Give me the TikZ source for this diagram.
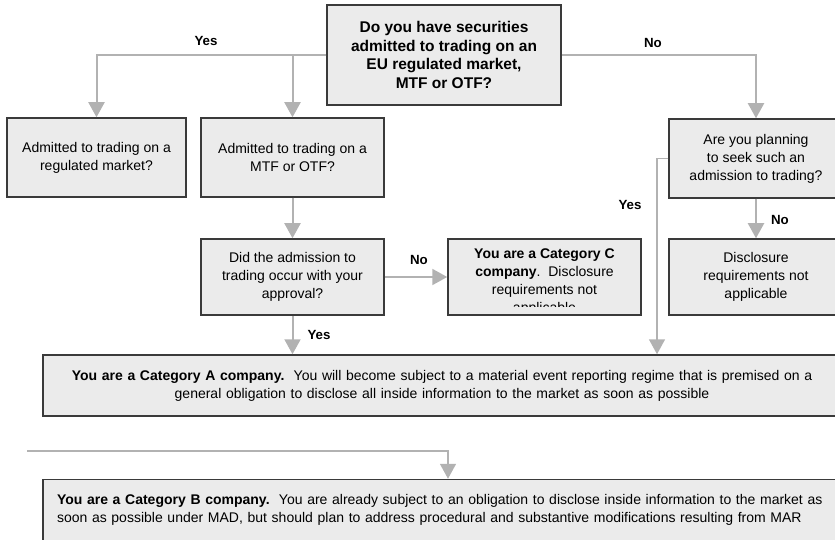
\documentclass[tikz,border=0pt]{standalone}
\usepackage{fontspec}
\setmainfont{Liberation Sans}
\usepackage{tikz}
\usetikzlibrary{arrows.meta}
\definecolor{boxfill}{HTML}{EBEBEB}
\definecolor{boxline}{HTML}{3A3A3A}
\definecolor{arrgray}{HTML}{B2B2B2}

\begin{document}
\begin{tikzpicture}[
    x=1pt, y=-1pt,
    every node/.style={font=\fontsize{14}{18}\selectfont},
    qbox/.style={draw=boxline,line width=1.5pt,fill=boxfill,align=center,inner sep=3pt},
    wbox/.style={qbox,minimum width=798pt,minimum height=61pt,text width=770pt,inner xsep=14pt},
    lbl/.style={font=\fontsize{13.3}{16}\selectfont\bfseries},
    arr/.style={draw=arrgray,line width=2pt,-{Triangle[width=16pt,length=15pt]}},
  ]
  \clip (0,0) rectangle (835,540);
  \useasboundingbox (0,0) rectangle (835,540);

  % questions
  \node[qbox,minimum width=234pt,minimum height=100pt,
        font=\fontsize{15.5}{18.5}\selectfont\bfseries] (q0) at (444,55)
    {Do you have securities\\admitted to trading on an\\EU regulated market,\\MTF or OTF?};
  \node[qbox,minimum width=179pt,minimum height=79pt] (b1) at (96.5,157.5)
    {Admitted to trading on a\\regulated market?};
  \node[qbox,minimum width=183pt,minimum height=79pt] (b2) at (292.5,157.5)
    {Admitted to trading on a\\MTF or OTF?};
  \node[qbox,minimum width=174pt,minimum height=79pt] (r1) at (756,158.5)
    {Are you planning\\to seek such an\\admission to trading?};
  \node[qbox,minimum width=183pt,minimum height=76pt] (did) at (292.5,277)
    {Did the admission to\\trading occur with your\\approval?};
  \node[qbox,minimum width=174pt,minimum height=76pt] (nodis) at (756,277)
    {Disclosure\\requirements not\\applicable};

  % category C, text cut at the box bottom
  \node[qbox,minimum width=193pt,minimum height=76pt] (catC) at (544.5,277) {};
  \begin{scope}
    \clip (450,241) rectangle (639,306);
    \node[align=center,anchor=north,inner sep=0pt] (catCtext) at (544.5,249)
      {\textbf{You are a Category C}\\\textbf{company}.\ \ Disclosure\\requirements not\\applicable};
  \end{scope}

  % outcomes
  \node[wbox] (catA) at (442,385.5)
    {\textbf{You are a Category A company.}\ \ You will become subject to a material event reporting regime that is premised on a\\general obligation to disclose all inside information to the market as soon as possible};
  \node[wbox,align=left] (catB) at (442,510)
    {\textbf{You are a Category B company.}\ \ You are already subject to an obligation to disclose inside information to the market as\\soon as possible under MAD, but should plan to address procedural and substantive modifications resulting from MAR};

  % connectors
  \draw[arr] (q0.west) -| (b1.north);
  \draw[arr] (b2.north |- q0.west) -- (b2.north);
  \draw[arr] (q0.east) -| (r1.north);
  \draw[arr] (b2.south) -- (did.north);
  \draw[arr] (did.east) -- (catC.west);
  \draw[arr] (did.south) -- (did.south |- catA.north);
  \draw[arr] (r1.south) -- (nodis.north);
  \coordinate (ayes) at (657,158.5);
  \draw[arr,line width=1.6pt] (r1.west) -- (ayes) -- (ayes |- catA.north);
  \coordinate (bfrom) at (27,451);
  \draw[arr,line width=1.6pt] (bfrom) -| ([xshift=6pt]catB.north);

  % labels
  \node[lbl] (lyes1) at (206,41) {Yes};
  \node[lbl] (lno1) at (653,43) {No};
  \node[lbl] (lno2) at (419,260) {No};
  \node[lbl] (lyes2) at (630,205) {Yes};
  \node[lbl] (lno3) at (780,220) {No};
  \node[lbl] (lyes3) at (319,335) {Yes};
\end{tikzpicture}
\end{document}
